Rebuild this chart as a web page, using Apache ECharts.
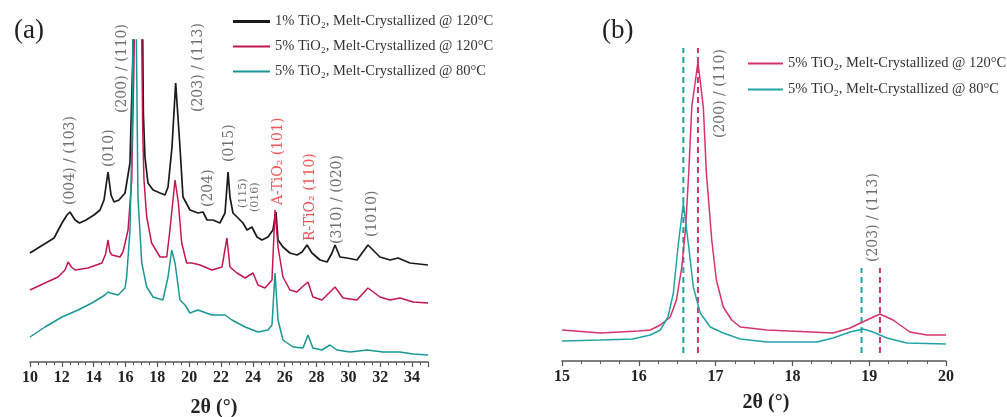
<!DOCTYPE html>
<html><head><meta charset="utf-8">
<script src="https://cdn.jsdelivr.net/npm/echarts@6/dist/echarts.min.js"></script>
<style>html,body{margin:0;padding:0;background:#fff}#c{width:1007px;height:417px}</style>
</head><body><div id="c"></div>
<script>
// ---------- data ----------
const seriesNames = ['1% TiO₂, Melt-Crystallized @ 120°C', '5% TiO₂, Melt-Crystallized @ 120°C', '5% TiO₂, Melt-Crystallized @ 80°C'];
const xTicksA = {min: 10, max: 35, step: 2};
const xTicksB = {min: 15, max: 20, step: 1};

// panel (a): [2θ, intensity a.u.]
const black1pct120 = [[10.00,109],[10.50,114],[11.01,119],[11.51,124],[12.01,139],[12.32,147],[12.51,150],[12.83,142],[13.11,139],[13.52,142],[14.02,147],[14.40,152],[14.65,162],[14.90,190],[15.09,167],[15.28,160],[15.59,162],[15.97,169],[16.28,199],[16.45,299],[16.87,700],[17.12,249],[17.22,205],[17.41,179],[17.73,172],[18.17,169],[18.48,167],[18.67,175],[18.92,215],[19.15,279],[19.42,215],[19.61,165],[20.05,152],[20.55,149],[20.87,150],[21.12,142],[21.49,142],[21.93,139],[22.25,149],[22.44,190],[22.56,165],[22.75,149],[23.07,144],[23.38,139],[23.63,132],[23.94,135],[24.26,125],[24.57,122],[24.95,125],[25.26,132],[25.45,150],[25.58,122],[25.89,115],[26.33,109],[26.77,107],[27.09,110],[27.40,117],[27.71,109],[28.22,102],[28.66,100],[28.97,109],[29.16,117],[29.47,105],[29.91,104],[30.54,102],[31.23,117],[31.98,105],[32.61,102],[33.12,104],[33.87,99],[35.00,97]];
const pink5pct120 = [[10.00,72],[10.94,79],[11.76,85],[12.20,92],[12.39,100],[12.60,95],[12.83,92],[13.64,94],[14.52,99],[14.75,108],[14.90,122],[15.02,110],[15.15,107],[15.65,105],[15.84,110],[16.16,132],[16.39,182],[16.53,299],[16.80,650],[17.02,322],[17.08,232],[17.16,182],[17.33,145],[17.64,119],[18.17,105],[18.59,105],[18.79,132],[19.11,182],[19.32,159],[19.53,119],[19.84,99],[20.18,99],[20.68,97],[21.43,92],[22.06,95],[22.37,124],[22.56,95],[23.00,89],[23.51,84],[24.01,89],[24.32,77],[24.76,74],[25.20,82],[25.39,152],[25.58,115],[25.89,85],[26.33,72],[26.77,70],[27.09,75],[27.46,80],[27.77,65],[28.34,62],[29.16,75],[29.66,64],[30.54,62],[31.23,74],[31.98,65],[32.61,62],[33.24,64],[34.06,60],[35.00,59]];
const teal5pct80 = [[10.00,25],[10.94,35],[12.01,45],[13.02,52],[13.89,59],[14.71,67],[14.90,70],[15.03,69],[15.53,67],[15.97,74],[16.07,85],[16.28,132],[16.42,232],[16.56,520],[16.78,165],[17.02,99],[17.33,75],[17.73,65],[18.35,62],[18.67,85],[18.90,112],[19.11,99],[19.42,62],[19.74,57],[20.05,49],[20.55,52],[21.43,47],[22.25,47],[22.69,42],[23.51,35],[24.32,30],[24.95,32],[25.20,37],[25.39,89],[25.58,42],[25.89,22],[26.52,15],[27.15,14],[27.46,27],[27.77,14],[28.34,12],[28.84,17],[29.28,12],[30.10,10],[31.17,12],[32.17,10],[33.24,10],[34.06,8],[35.00,7]];

// panel (b)
const pinkZoom120 = [[15.00,31],[15.50,28],[16.00,30],[16.15,31],[16.28,36],[16.41,44],[16.49,61],[16.56,94],[16.61,134],[16.65,188],[16.69,254],[16.77,299],[16.84,254],[16.88,188],[16.95,121],[17.01,81],[17.10,54],[17.21,41],[17.32,34],[17.67,31],[18.53,28],[18.75,33],[18.97,41],[19.14,47],[19.31,41],[19.53,29],[19.75,26],[20.00,26]];
const tealZoom80 = [[15.00,20],[15.50,21],[15.92,22],[16.15,26],[16.28,31],[16.38,44],[16.45,68],[16.51,114],[16.58,158],[16.65,114],[16.71,74],[16.80,48],[16.93,34],[17.10,28],[17.32,22],[17.67,19],[18.32,19],[18.53,23],[18.75,29],[18.92,32],[19.05,29],[19.23,23],[19.49,18],[20.00,17]];
const tealPeakPos = [16.58, 18.90];
const pinkPeakPos = [16.77, 19.14];
const dashTops = [313, 93];
const dashBottom = 8;

// peak labels: [text, 2θ, intensity at label start]
const peakLabelsA = [
  ['(004) / (103)', 12.51, 157],
  ['(010)', 14.96, 195],
  ['(200) / (110)', 15.78, 249],
  ['(203) / (113)', 20.55, 250],
  ['(204)', 21.18, 155],
  ['(015)', 22.50, 200],
  ['(115)', 23.38, 154],
  ['(016)', 24.13, 150],
  ['A-TiO₂ (101)', 25.58, 157],
  ['R-TiO₂ (110)', 27.59, 121],
  ['(310) / (020)', 29.28, 118],
  ['(1010)', 31.48, 125]
];
const peakLabelsB = [
  ['(200) / (110)', 17.06, 223],
  ['(203) / (113)', 19.05, 99]
];

// ---------- styles ----------
const colA = ['#1a1a1a', '#c4174f', '#199696'];
const colB = ['#d6336b', '#22a4a6'];
const serif = 'Liberation Serif';
const annFont = 'DejaVu Serif';
const redLabels = ['A-TiO₂ (101)', 'R-TiO₂ (110)'];
const smallLabels = ['(115)', '(016)'];
const iconThick = 'path://M0,0L37,0L37,3L0,3Z';
const iconThin = 'path://M0,0L37,0L37,2L0,2Z';

function xAxisCfg(gi, t, nameGap, namePad) {
  return {
    gridIndex: gi, type: 'value', min: t.min, max: t.max, interval: t.step,
    name: '2θ (°)', nameLocation: 'middle', nameGap: nameGap,
    nameTextStyle: {fontFamily: serif, fontWeight: 'bold', fontSize: 20, color: '#222', padding: namePad},
    axisLine: {show: true, lineStyle: {color: '#555', width: 1.5}},
    axisTick: {show: true, length: 5, lineStyle: {color: '#555', width: 1.2}},
    minorTick: {show: true, splitNumber: 4, length: 3, lineStyle: {color: '#555', width: 1}},
    splitLine: {show: false}, minorSplitLine: {show: false},
    axisLabel: {fontFamily: serif, fontWeight: 'bold', fontSize: 16, color: '#222', margin: 8, showMaxLabel: gi === 1}
  };
}
function yAxisCfg(gi, max) {
  return {gridIndex: gi, type: 'value', min: 0, max: max, show: false, splitLine: {show: false}};
}
function lineSeries(name, data, gi, color, w) {
  return {name: name, type: 'line', xAxisIndex: gi, yAxisIndex: gi, data: data, symbol: 'none',
    showSymbol: false, smooth: false, clip: true, lineStyle: {color: color, width: w}, itemStyle: {color: color},
    emphasis: {disabled: true}, z: 3};
}
function dashSeries(pos, top, gi, color) {
  return {type: 'line', xAxisIndex: gi, yAxisIndex: gi, data: [[pos, dashBottom], [pos, top]], symbol: 'none',
    lineStyle: {color: color, width: 2, type: [6, 4]}, emphasis: {disabled: true}, z: 2, silent: true};
}
function labelSeries(list, gi) {
  return {type: 'scatter', xAxisIndex: gi, yAxisIndex: gi, symbolSize: 1, silent: true, z: 5,
    itemStyle: {color: 'rgba(0,0,0,0)'},
    data: list.map(l => ({name: l[0], value: [l[1], l[2]],
      label: {color: redLabels.includes(l[0]) ? '#ee2a2e' : '#4a4a4a', fontSize: smallLabels.includes(l[0]) ? 11 : 14}})),
    label: {show: true, formatter: '{b}', position: 'inside', rotate: 90, align: 'left', verticalAlign: 'middle',
      fontFamily: annFont}
  };
}

const series = [
  lineSeries(seriesNames[0], black1pct120, 0, colA[0], 1.7),
  lineSeries(seriesNames[1], pink5pct120, 0, colA[1], 1.5),
  lineSeries(seriesNames[2], teal5pct80, 0, colA[2], 1.5),
  lineSeries(seriesNames[1], pinkZoom120, 1, colB[0], 1.5),
  lineSeries(seriesNames[2], tealZoom80, 1, colB[1], 1.5),
  dashSeries(tealPeakPos[0], dashTops[0], 1, colB[1]),
  dashSeries(pinkPeakPos[0], dashTops[0], 1, colB[0]),
  dashSeries(tealPeakPos[1], dashTops[1], 1, colB[1]),
  dashSeries(pinkPeakPos[1], dashTops[1], 1, colB[0]),
  labelSeries(peakLabelsA, 0),
  labelSeries(peakLabelsB, 1)
];

const legendText = {fontFamily: serif, fontSize: 14.5, color: '#333'};
const option = {
  animation: false,
  backgroundColor: '#fff',
  title: [
    {text: '(a)', left: 9, top: 12, textStyle: {fontFamily: serif, fontWeight: 'normal', fontSize: 27, color: '#222'}},
    {text: '(b)', left: 597, top: 12, textStyle: {fontFamily: serif, fontWeight: 'normal', fontSize: 27, color: '#222'}}
  ],
  legend: [
    {left: 228, top: 9, orient: 'vertical', itemWidth: 37, itemHeight: 14, itemGap: 10, textStyle: legendText,
     selectedMode: false, symbolKeepAspect: true,
     data: [
       {name: seriesNames[0], icon: iconThick, itemStyle: {color: colA[0]}},
       {name: seriesNames[1], icon: iconThin, itemStyle: {color: colA[1]}},
       {name: seriesNames[2], icon: iconThin, itemStyle: {color: colA[2]}}
     ]},
    {left: 743, top: 51, orient: 'vertical', itemWidth: 35, itemHeight: 14, itemGap: 11, textStyle: legendText,
     selectedMode: false, symbolKeepAspect: true,
     data: [
       {name: seriesNames[1], icon: iconThin, itemStyle: {color: colB[0]}},
       {name: seriesNames[2], icon: iconThin, itemStyle: {color: colB[1]}}
     ]}
  ],
  grid: [
    {left: 30, top: 40, width: 398, height: 322, outerBoundsMode: 'none', containLabel: false},
    {left: 562, top: 40, width: 384, height: 321, outerBoundsMode: 'none', containLabel: false}
  ],
  xAxis: [xAxisCfg(0, xTicksA, 36, [0, 30, 0, 0]), xAxisCfg(1, xTicksB, 32, [0, 0, 0, 24])],
  yAxis: [yAxisCfg(0, 322), yAxisCfg(1, 321)],
  series: series
};
const chart = echarts.init(document.getElementById('c'));
chart.setOption(option);
</script></body></html>
